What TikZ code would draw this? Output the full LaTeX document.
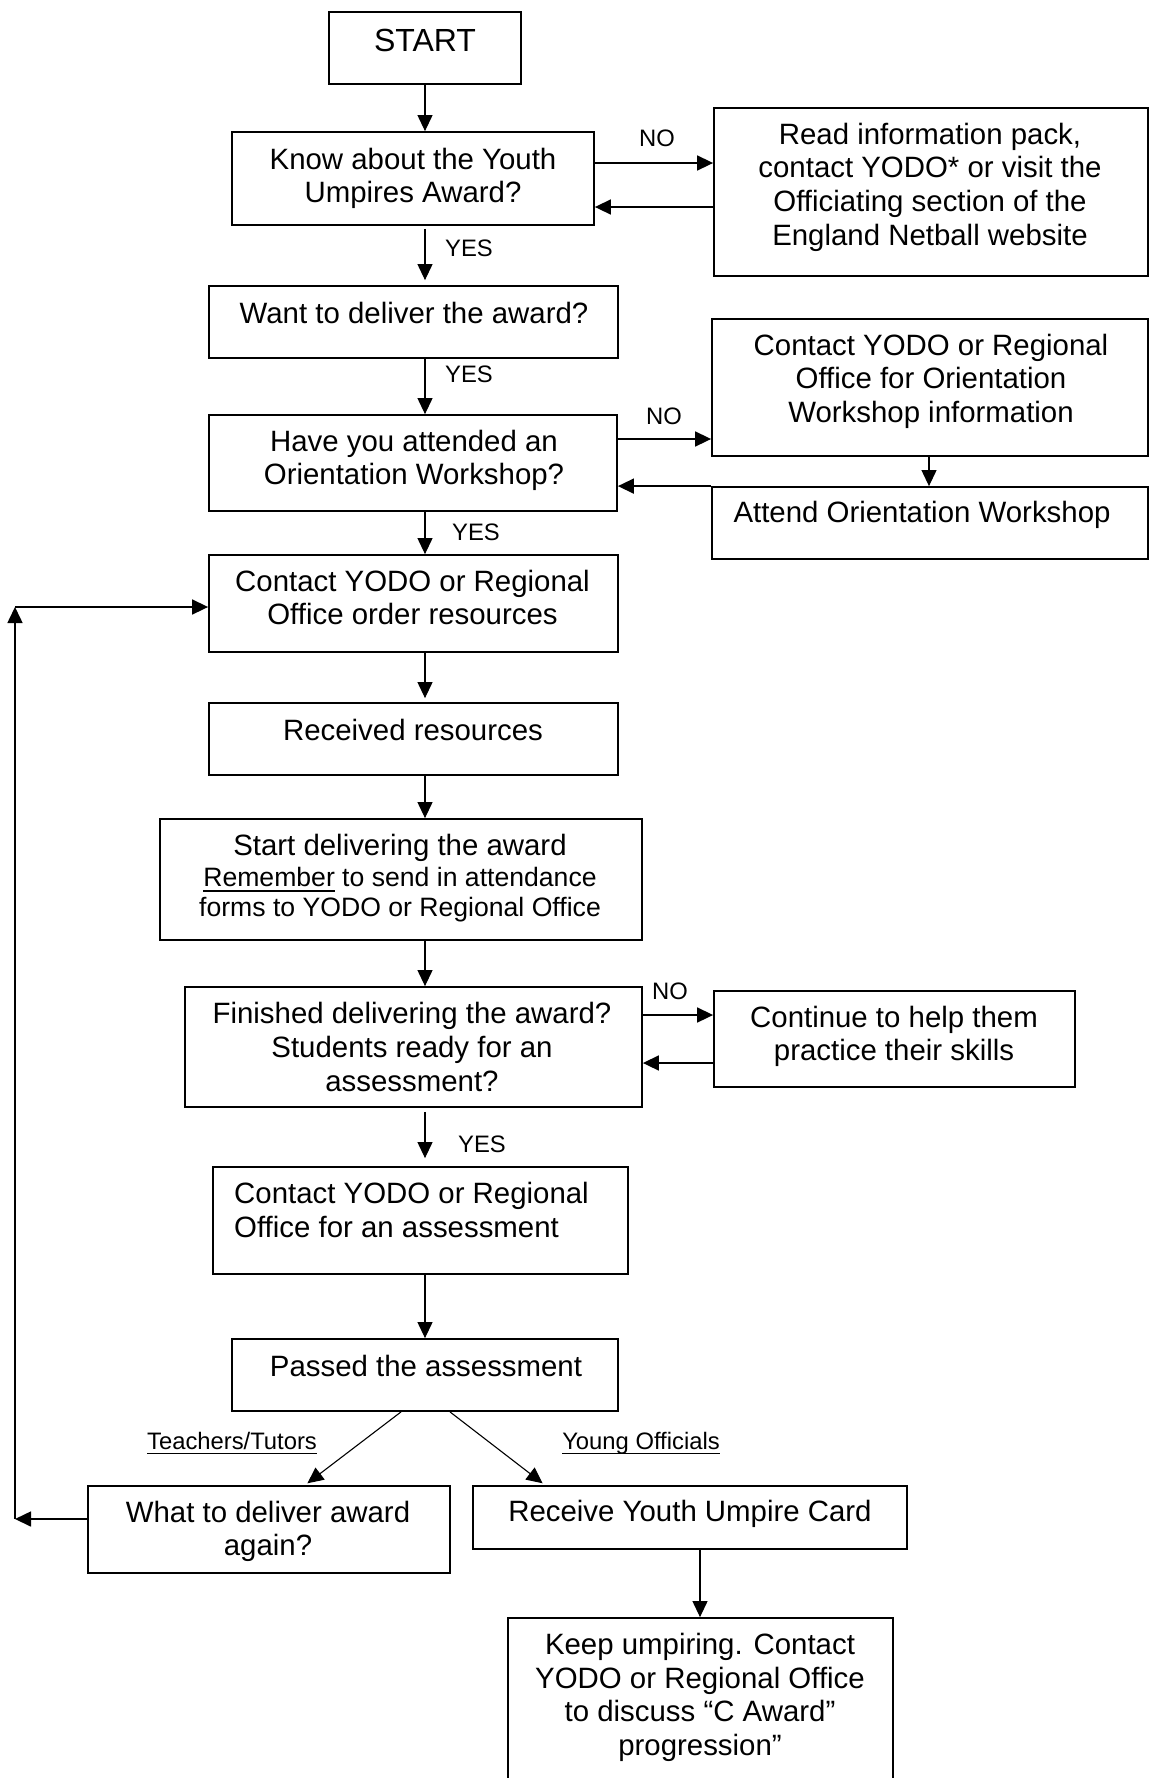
\documentclass[tikz,border=0pt]{standalone}
\usepackage{fontspec}
\setmainfont{Liberation Sans}
\usetikzlibrary{arrows.meta}
\newcommand\myul[1]{\setbox0\hbox{#1}\rlap{\rule[-4.9pt]{\wd0}{1.4pt}}\box0\relax}
\newcommand\lst{\rule[-0.18em]{0pt}{0.9em}}
\newcommand\mainf{\fontsize{29.4pt}{33.6pt}\selectfont}
\newcommand\smallf{\fontsize{26.6pt}{30.2pt}\selectfont}
\newcommand\labf{\fontsize{23.8pt}{27pt}\selectfont}
\newcommand\bx[5]{\node[box, minimum width={(#4)-(#2)}, minimum height={(#5)-(#3)}] (#1) at ({((#2)+(#4))/2},{((#3)+(#5))/2}) {};}
\tikzset{
  box/.style={draw, line width=1.8pt, inner sep=0pt, rectangle},
  txt/.style={inner sep=0pt, align=center, font=\mainf, execute at begin node=\lst, execute at end node=\lst},
  lab/.style={inner sep=0pt, font=\labf, execute at begin node=\lst, execute at end node=\lst},
  arr/.style={line width=1.1pt, -{Triangle[length=16pt,width=15pt]}},
  tarr/.style={arr, line width=1.6pt}
}
\begin{document}
\begin{tikzpicture}[x=1pt,y=-1pt]
\useasboundingbox (0,0) rectangle (1150,1778);
% boxes
\bx{start}{329}{12}{521}{84}
\bx{know}{232}{132}{594}{225}
\bx{read}{714}{108}{1148}{276}
\bx{want}{209}{286}{618}{358}
\bx{have}{209}{415}{617}{511}
\bx{orient}{712}{319}{1148}{456}
\bx{attend}{712}{487}{1148}{559}
\bx{order}{209}{555}{618}{652}
\bx{received}{209}{703}{618}{775}
\bx{startdel}{160}{819}{642}{940}
\bx{finished}{185}{987}{642}{1107}
\bx{continue}{714}{991}{1075}{1087}
\bx{assess}{213}{1167}{628}{1274}
\bx{passed}{232}{1339}{618}{1411}
\bx{what}{88}{1486}{450}{1573}
\bx{receive}{473}{1486}{907}{1549}
\bx{keep}{508}{1618}{893}{1800}
% texts
\node[txt, font=\fontsize{32pt}{36pt}\selectfont] (startt) at (425,43) {START};
\node[txt] (knowt) at (413,178.5) {Know about the Youth\\Umpires Award?};
\node[txt] (readt) at (930,187) {Read information pack,\\contact YODO* or visit the\\Officiating section of the\\England Netball website};
\node[txt] (wantt) at (414,315) {Want to deliver the award?};
\node[txt] (havet) at (414,460.5) {Have you attended an\\Orientation Workshop?};
\node[txt] (orientt) at (931,381) {Contact YODO or Regional\\Office for Orientation\\Workshop information};
\node[txt] (attendt) at (922,515) {Attend Orientation Workshop};
\node[txt] (ordert) at (412.5,600) {Contact YODO or Regional\\Office order resources};
\node[txt] (receivedt) at (413,732) {Received resources};
\node[txt] (sdt1) at (400,848) {Start delivering the award};
\node[txt, font=\smallf] (sdt2) at (400,895) {\myul{Remember} to send in attendance\\forms to YODO or Regional Office};
\node[txt] (finishedt) at (412,1049.5) {Finished delivering the award?\\Students ready for an\\assessment?};
\node[txt] (continuet) at (894,1036.5) {Continue to help them\\practice their skills};
\node[txt, align=left, anchor=west] (assesst) at (234,1212.5) {Contact YODO or Regional\\Office for an assessment};
\node[txt] (passedt) at (426,1368) {Passed the assessment};
\node[txt] (whatt) at (268,1531.5) {What to deliver award\\again?};
\node[txt] (receivet) at (690,1514) {Receive Youth Umpire Card};
\node[txt] (keept) at (700,1697.5) {Keep umpiring. Contact\\YODO or Regional Office\\to discuss “C Award”\\progression”};
% labels
\node[lab] (no1) at (657,140) {NO};
\node[lab] (yes1) at (469,250) {YES};
\node[lab] (yes2) at (469,376) {YES};
\node[lab] (no2) at (664,418) {NO};
\node[lab] (yes3) at (476,534) {YES};
\node[lab] (no3) at (670,993) {NO};
\node[lab] (yes4) at (482,1146) {YES};
\node[lab] (teach) at (232,1443) {\myul{Teachers/Tutors}};
\node[lab] (young) at (641,1443) {\myul{Young Officials}};
% main spine
\coordinate (spine) at (425,0);
\draw[arr] (start.south -| spine) -- (know.north -| spine);
\draw[arr, shorten <=3pt, shorten >=5pt] (know.south -| spine) -- (want.north -| spine);
\draw[arr] (want.south -| spine) -- (have.north -| spine);
\draw[arr] (have.south -| spine) -- (order.north -| spine);
\draw[arr, shorten >=4pt] (order.south -| spine) -- (received.north -| spine);
\draw[arr] (received.south -| spine) -- (startdel.north -| spine);
\draw[arr] (startdel.south -| spine) -- (finished.north -| spine);
\draw[arr, shorten <=4pt, shorten >=8pt] (finished.south -| spine) -- (assess.north -| spine);
\draw[arr] (assess.south -| spine) -- (passed.north -| spine);
% side branches
\draw[tarr] (know.east |- 0,163) -- (read.west |- 0,163);
\draw[tarr] (read.west |- 0,207) -- (know.east |- 0,207);
\draw[tarr] (have.east |- 0,439) -- (orient.west |- 0,439);
\draw[arr] (orient.south -| 929,0) -- (attend.north -| 929,0);
\draw[tarr] (attend.north west) -- (have.east |- attend.north west);
\draw[tarr] (finished.east |- 0,1015) -- (continue.west |- 0,1015);
\draw[tarr] (continue.west |- 0,1063) -- (finished.east |- 0,1063);
% split
\draw[arr, shorten >=3pt] ([xshift=-24pt]passed.south) -- ([xshift=36pt]what.north);
\draw[arr, shorten >=3pt] ([xshift=25pt]passed.south) -- ([xshift=-145pt]receive.north);
\draw[arr] (receive.south -| 700,0) -- (keep.north -| 700,0);
% loop back
\coordinate (loopbot) at (15,1519);
\coordinate (looptop) at (15,607);
\draw[tarr] (what.west |- loopbot) -- (loopbot);
\draw[tarr] (loopbot) -- (looptop);
\draw[tarr] (looptop) -- (order.west |- looptop);
\end{tikzpicture}
\end{document}
